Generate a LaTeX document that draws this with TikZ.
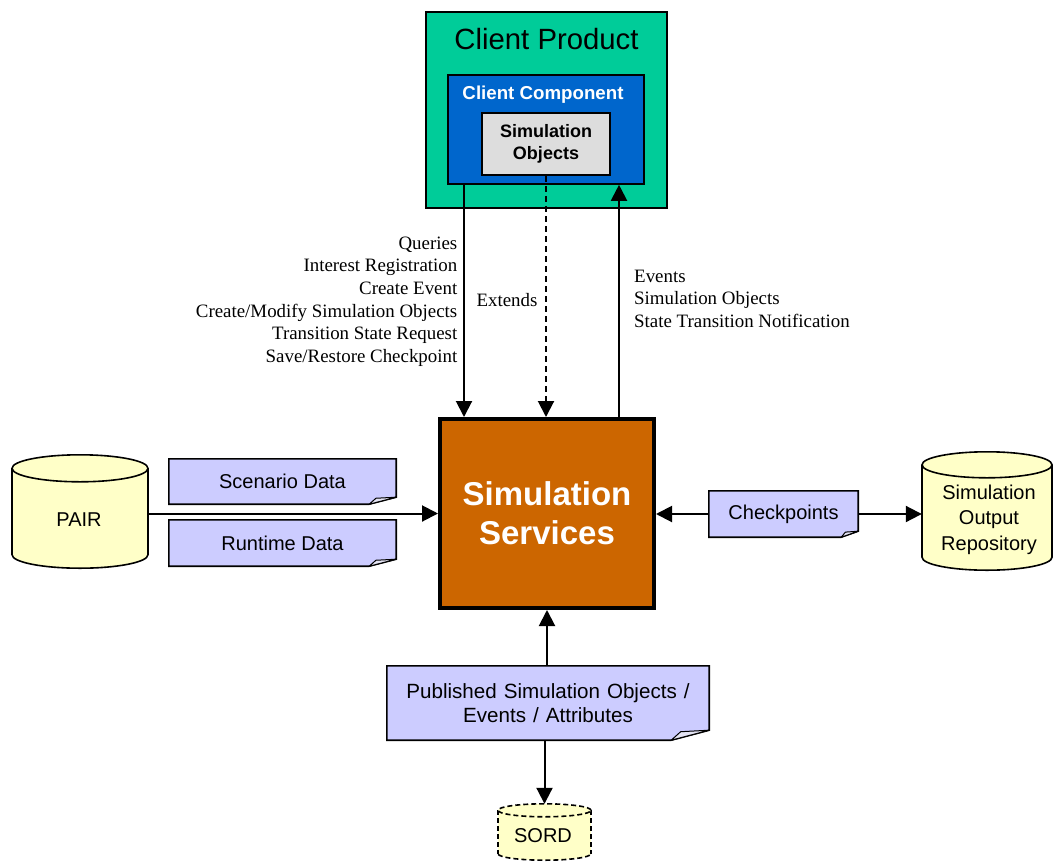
\documentclass[tikz,border=0pt]{standalone}
\usepackage{fontspec}
\setmainfont{Liberation Serif}
\setsansfont{Liberation Sans}
\usetikzlibrary{arrows.meta,calc,backgrounds}

\definecolor{productfill}{HTML}{00CC99}
\definecolor{componentfill}{HTML}{0066CC}
\definecolor{objectfill}{HTML}{DDDDDD}
\definecolor{servicefill}{HTML}{CC6600}
\definecolor{notefill}{HTML}{CCCCFF}
\definecolor{foldfill}{HTML}{E4E4F4}
\definecolor{drumfill}{HTML}{FFFFC8}

% wider word spacing for the long note text
\newcommand\widespaces{\spaceskip=7pt plus 1pt minus 1pt\relax}

% note with a folded bottom-right corner: node, fold width, fold height
\newcommand\foldnote[3]{%
  \filldraw[fill=notefill, draw=black, line width=1.6pt, line join=miter]
    (#1.north west) -- (#1.north east) -- ($(#1.south east)+(0,-#3)$)
    -- ($(#1.south east)+(-#2,0)$) -- (#1.south west) -- cycle;
  \filldraw[fill=foldfill, draw=black, line width=1pt, line join=round]
    ($(#1.south east)+(-#2,0)$) -- ($(#1.south east)+(-0.75*#2,-0.85*#3)$)
    -- ($(#1.south east)+(0,-#3)$) -- cycle;
}

% upright cylinder filling a node: node, x radius, y radius, line style
\newcommand\drum[4]{%
  \fill[drumfill] ($(#1.south)+(0,-#3)$) ellipse [x radius=#2pt, y radius=#3pt];
  \draw[#4] ($(#1.south)+(0,-#3)$) ellipse [x radius=#2pt, y radius=#3pt];
  \fill[drumfill] ($(#1.north west)+(0,#3)$) rectangle ($(#1.south east)+(0,-#3)$);
  \draw[#4] ($(#1.north west)+(0,#3)$) -- ($(#1.south west)+(0,-#3)$);
  \draw[#4] ($(#1.north east)+(0,#3)$) -- ($(#1.south east)+(0,-#3)$);
  \filldraw[fill=drumfill, #4] ($(#1.north)+(0,#3)$) ellipse [x radius=#2pt, y radius=#3pt];
}

\tikzset{
  box/.style={draw=black, inner sep=0pt},
  area/.style={inner sep=0pt},
  notebox/.style={inner sep=0pt, align=center,
    font=\sffamily\fontsize{20}{24}\selectfont},
  sanstext/.style={inner sep=0pt, align=center,
    font=\sffamily\fontsize{20}{25.5}\selectfont},
  serif/.style={inner sep=0pt, font=\rmfamily\fontsize{18.9}{22.6}\selectfont},
  flow/.style={line width=2pt, -{Triangle[length=16pt,width=16pt]}},
  drumline/.style={draw=black, line width=1.6pt},
}

\begin{document}
\begin{tikzpicture}[x=1pt,y=-1pt]
  \useasboundingbox (0,0) rectangle (1054,862);

  % client side
  \node[box, fill=productfill, line width=1.6pt,
        minimum width=241pt, minimum height=196pt] (product) at (546.5,110) {};
  \node[inner sep=0pt, font=\sffamily\fontsize{29.3}{34}\selectfont]
        (producttitle) at (546.5,39) {Client Product};
  \node[box, fill=componentfill, line width=1.6pt,
        minimum width=196pt, minimum height=109pt] (component) at (546,129.5) {};
  \node[inner sep=0pt, text=white, font=\sffamily\bfseries\fontsize{18.7}{22}\selectfont]
        (componenttitle) at (543,95) {Client Component};
  \node[box, fill=objectfill, line width=1.6pt, align=center,
        minimum width=128pt, minimum height=62pt,
        font=\sffamily\bfseries\fontsize{18}{22}\selectfont]
        (objects) at (546,144) {Simulation\\Objects};

  % central service
  \node[box, fill=servicefill, line width=4pt, align=center, text=white,
        minimum width=214pt, minimum height=189pt,
        font=\sffamily\bfseries\fontsize{33}{39}\selectfont]
        (services) at (547,513.5) {Simulation\\Services};

  % data notes
  \node[notebox, minimum width=227pt, minimum height=45pt] (scenario) at (282.5,481.5) {Scenario Data};
  \node[notebox, minimum width=227pt, minimum height=46pt] (runtime) at (282.5,543) {Runtime Data};
  \node[notebox, minimum width=149pt, minimum height=46pt] (checkpoints) at (783.5,514) {Checkpoints};
  \node[notebox, minimum width=322pt, minimum height=74pt,
        font=\sffamily\fontsize{20.6}{24}\selectfont\widespaces]
        (published) at (548,703) {Published Simulation Objects /\\Events / Attributes};

  % stores
  \node[area, minimum width=136pt, minimum height=113pt] (pair) at (80,511.5) {};
  \node[sanstext] (pairlabel) at (79,520) {PAIR};
  \node[area, minimum width=130pt, minimum height=118pt] (repository) at (987,511) {};
  \node[sanstext] (repositorylabel) at (989,519.5) {Simulation\\Output\\Repository};
  \node[area, minimum width=93pt, minimum height=56pt] (sord) at (544.5,832) {};
  \node[sanstext] (sordlabel) at (543,836) {SORD};

  \begin{scope}[on background layer]
    \fill[white] (0,0) rectangle (1054,862);
    \foldnote{scenario}{27}{7}
    \foldnote{runtime}{27}{7}
    \foldnote{checkpoints}{17}{6}
    \foldnote{published}{38}{10}
    \drum{pair}{68}{13.5}{drumline}
    \drum{repository}{65}{13}{drumline}
    \drum{sord}{46.5}{6.5}{drumline, dashed, dash pattern=on 5pt off 3pt}
  \end{scope}

  % connector columns
  \coordinate (qx) at (464,0);
  \coordinate (ex) at (546,0);
  \coordinate (nx) at (619,0);

  \draw[flow] (component.south -| qx) -- (services.north -| qx);
  \draw[flow, dash pattern=on 6pt off 4pt] (objects.south -| ex) -- (services.north -| ex);
  \draw[flow] (services.north -| nx) -- (component.south -| nx);
  \draw[flow] (pair.east |- services.west) -- (services.west);
  \draw[flow] (checkpoints.west) -- (checkpoints.west -| services.east);
  \draw[flow] (checkpoints.east) -- (checkpoints.east -| repository.west);
  \draw[flow] (published.north -| services.south) -- (services.south);
  \draw[flow] (published.south -| sord.north) -- (sord.north);

  % connector labels
  \node[serif, align=right, anchor=east] (requests) at (457.5,301.5)
    {Queries\\Interest Registration\\Create Event\\Create/Modify Simulation Objects\\Transition State Request\\Save/Restore Checkpoint};
  \node[serif] (extends) at (507,300) {Extends};
  \node[serif, align=left, anchor=west] (notifications) at (634,298.5)
    {Events\\Simulation Objects\\State Transition Notification};
\end{tikzpicture}
\end{document}
